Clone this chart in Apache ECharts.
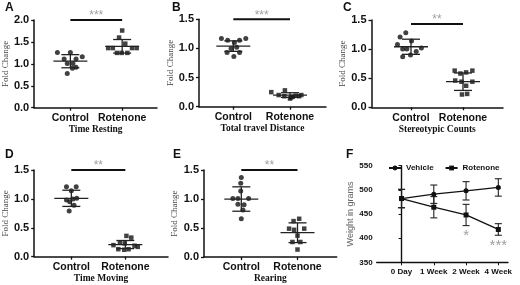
<!DOCTYPE html>
<html>
<head>
<meta charset="utf-8">
<script src="https://cdn.jsdelivr.net/npm/echarts@6/dist/echarts.min.js"></script>
<style>
  html, body { margin: 0; padding: 0; background: #fff; }
  #chart { width: 520px; height: 285px; }
</style>
</head>
<body>
<div id="chart"></div>
<script>
const categories = ['Control', 'Rotenone']
const behaviourTitles = ['Time Resting', 'Total travel Distance', 'Stereotypic Counts', 'Time Moving', 'Rearing']
const panelLetters = ['A', 'B', 'C', 'D', 'E', 'F']

// [jitter offset from category, fold change]
const restingControl = [[-0.25, 1.26], [0, 1.26], [0.23, 1.16], [-0.12, 1.11], [0.11, 1.11], [-0.06, 1.01], [0.05, 1.01], [0.11, 0.92], [0.04, 0.9], [-0.06, 0.78]]
const restingRotenone = [[0, 1.76], [-0.06, 1.6], [0.06, 1.46], [-0.27, 1.36], [-0.18, 1.36], [0.19, 1.36], [0.28, 1.36], [-0.1, 1.25], [-0.01, 1.25], [0.1, 1.25]]
const travelControl = [[-0.21, 1.17], [-0.1, 1.14], [0.11, 1.14], [0.22, 1.17], [0.02, 1.1], [-0.04, 1.0], [0.06, 1.02], [-0.11, 0.93], [0.11, 0.93], [0.01, 0.86]]
const travelRotenone = [[-0.33, 0.25], [-0.09, 0.28], [-0.2, 0.2], [-0.1, 0.18], [0.05, 0.17], [0.1, 0.19], [0.2, 0.2], [0.02, 0.16], [0.0, 0.14], [0.16, 0.18]]
const stereoControl = [[-0.1, 1.28], [-0.21, 1.21], [0.01, 1.14], [-0.26, 1.08], [-0.16, 1.0], [-0.08, 1.0], [0.1, 0.96], [0.2, 1.02], [-0.16, 0.87], [-0.01, 0.9]]
const stereoRotenone = [[-0.16, 0.63], [-0.05, 0.58], [0.06, 0.6], [0.18, 0.63], [-0.15, 0.46], [-0.03, 0.44], [0.18, 0.44], [0.06, 0.37], [-0.02, 0.22], [0.08, 0.23]]
const movingControl = [[-0.09, 1.21], [0.09, 1.21], [0, 1.14], [-0.09, 0.98], [0.1, 1.01], [-0.03, 0.95], [0.05, 0.89], [-0.04, 0.79], [0.03, 1.0]]
const movingRotenone = [[0.02, 0.36], [0.11, 0.33], [-0.1, 0.25], [-0.01, 0.23], [-0.22, 0.2], [0.17, 0.19], [-0.13, 0.13], [-0.02, 0.12], [0.06, 0.13], [0.23, 0.17]]
const rearingControl = [[0, 1.37], [-0.01, 1.27], [-0.01, 1.14], [-0.15, 1.01], [-0.06, 1.01], [0.13, 1.01], [-0.06, 0.91], [0.05, 0.9], [0.03, 0.81], [0, 0.66]]
const rearingRotenone = [[0.03, 0.66], [-0.07, 0.62], [-0.15, 0.49], [-0.06, 0.47], [0.12, 0.49], [0, 0.37], [-0.09, 0.26], [0.05, 0.26], [0, 0.13]]

// mean and SD per group [control, rotenone]
const groupMeans = [[1.06, 1.4], [1.04, 0.2], [1.04, 0.44], [1.01, 0.21], [1.0, 0.42]]
const groupSds = [[0.15, 0.155], [0.09, 0.04], [0.13, 0.15], [0.14, 0.07], [0.21, 0.17]]
const sigStars = ['***', '***', '**', '**', '**']
const sigLevel = [2.0, 1.5, 1.43, 1.5, 1.5]
const yMaxes = [2.0, 1.5, 1.5, 1.5, 1.5]

// panel F
const weeks = ['0 Day', '1 Week', '2 Week', '4 Week']
const vehicleMean = [482, 491, 498, 505]
const vehicleSd = [19, 19, 19, 18]
const rotenoneMean = [482, 464, 448, 418]
const rotenoneSd = [19, 22, 22, 12]
const weightStars = ['*', '***']
const weightStarPos = [[2, 413], [3, 391]]

const groups = [
  [restingControl, restingRotenone],
  [travelControl, travelRotenone],
  [stereoControl, stereoRotenone],
  [movingControl, movingRotenone],
  [rearingControl, rearingRotenone]
]

// pixel layout of the five dot-plot panels
const layout = [
  { left: 29, top: 20, right: 157, bottom: 107.7, ctrl: 66.7, rot: 120.7, nameGap: 21 },
  { left: 199, top: 19.3, right: 326, bottom: 106.7, ctrl: 233.3, rot: 290, nameGap: 21 },
  { left: 371.5, top: 20, right: 503, bottom: 107.3, ctrl: 411, rot: 463, nameGap: 19 },
  { left: 30, top: 170, right: 168, bottom: 256.7, ctrl: 68.3, rot: 124, nameGap: 22 },
  { left: 204, top: 170, right: 336.7, bottom: 257.3, ctrl: 241.3, rot: 297.5, nameGap: 25 }
]

const INK = '#111'
const STAR = '#a0a0a0'
const sans = 'Liberation Sans, Arial, sans-serif'
const serif = 'Liberation Serif, Times New Roman, serif'

const grids = [], xAxes = [], yAxes = [], series = []

layout.forEach((L, i) => {
  const unit = L.rot - L.ctrl
  grids.push({ left: L.left, top: L.top, width: L.right - L.left, height: L.bottom - L.top })
  xAxes.push({
    gridIndex: i, type: 'value',
    min: 1 - (L.ctrl - L.left) / unit, max: 2 + (L.right - L.rot) / unit,
    name: behaviourTitles[i], nameLocation: 'middle', nameGap: 15,
    nameTextStyle: { fontFamily: serif, fontWeight: 'bold', fontSize: 9.5, color: INK },
    splitLine: { show: false },
    axisLine: { lineStyle: { color: INK, width: 1.5 } },
    axisTick: { customValues: [1, 2], length: 3, lineStyle: { color: INK, width: 1.3 } },
    axisLabel: {
      customValues: [1, 2], margin: 5,
      formatter: v => categories[Math.round(v) - 1],
      fontFamily: sans, fontWeight: 'bold', fontSize: 10.5, color: INK
    }
  })
  yAxes.push({
    gridIndex: i, type: 'value', min: 0, max: yMaxes[i], interval: 0.5,
    name: 'Fold Change', nameLocation: 'middle', nameGap: L.nameGap,
    nameTextStyle: { fontFamily: serif, fontSize: 9, color: '#444' },
    splitLine: { show: false },
    axisLine: { show: true, lineStyle: { color: INK, width: 1.5 } },
    axisTick: { show: true, length: 3, lineStyle: { color: INK, width: 1.3 } },
    axisLabel: { formatter: v => v.toFixed(1), margin: 5, fontFamily: sans, fontWeight: 'bold', fontSize: 11, color: INK }
  })

  groups[i].forEach((pts, g) => {
    series.push({
      name: categories[g] + ' ' + panelLetters[i], type: 'scatter',
      xAxisIndex: i, yAxisIndex: i,
      symbol: g === 0 ? 'circle' : 'rect', symbolSize: g === 0 ? 5 : 4.5,
      itemStyle: { color: INK },
      data: pts.map(p => [g + 1 + p[0], p[1]])
    })
  })

  series.push({
    type: 'custom', xAxisIndex: i, yAxisIndex: i, z: 3,
    data: groupMeans[i].map((m, g) => [g + 1, m, groupSds[i][g]]),
    renderItem: (params, api) => {
      const x = api.value(0), m = api.value(1), s = api.value(2)
      const c = api.coord([x, m]), hi = api.coord([x, m + s]), lo = api.coord([x, m - s])
      const st = { stroke: '#222', lineWidth: 1.3 }
      return {
        type: 'group', children: [
          { type: 'line', shape: { x1: c[0] - 17, y1: c[1], x2: c[0] + 17, y2: c[1] }, style: st },
          { type: 'line', shape: { x1: hi[0] - 9, y1: hi[1], x2: hi[0] + 9, y2: hi[1] }, style: st },
          { type: 'line', shape: { x1: lo[0] - 9, y1: lo[1], x2: lo[0] + 9, y2: lo[1] }, style: st },
          { type: 'line', shape: { x1: c[0], y1: hi[1], x2: c[0], y2: lo[1] }, style: st }
        ]
      }
    }
  })

  series.push({
    type: 'custom', xAxisIndex: i, yAxisIndex: i, clip: false,
    data: [[1, 2, sigLevel[i]]],
    renderItem: (params, api) => {
      const a = api.coord([api.value(0), api.value(2)]), b = api.coord([api.value(1), api.value(2)])
      return {
        type: 'group', children: [
          { type: 'line', shape: { x1: a[0], y1: a[1], x2: b[0], y2: b[1] }, style: { stroke: INK, lineWidth: 2 } },
          { type: 'text', x: (a[0] + b[0]) / 2, y: a[1] - 10,
            style: { text: sigStars[i], fill: STAR, font: '12px ' + sans, align: 'center', verticalAlign: 'top' } }
        ]
      }
    }
  })
})

// panel F
const fi = 5
grids.push({ left: 376.7, top: 165.7, width: 131.3, height: 96.6 })
xAxes.push({
  gridIndex: fi, type: 'value', min: -0.77, max: 3.3,
  splitLine: { show: false },
  axisLine: { lineStyle: { color: INK, width: 1.4 } },
  axisTick: { customValues: [0, 1, 2, 3], length: 3, lineStyle: { color: INK } },
  axisLabel: {
    customValues: [0, 1, 2, 3], margin: 5,
    formatter: v => weeks[Math.round(v)],
    fontFamily: sans, fontWeight: 'bold', fontSize: 8, color: INK
  }
})
yAxes.push({
  gridIndex: fi, type: 'value', min: 350, max: 550, interval: 50,
  name: 'Weight in grams', nameLocation: 'middle', nameGap: 20,
  nameTextStyle: { fontFamily: sans, fontSize: 9, color: '#666' },
  splitLine: { show: false },
  axisLine: { show: true, lineStyle: { color: INK, width: 1.4 } },
  axisTick: { show: true, length: 3, lineStyle: { color: INK } },
  axisLabel: { margin: 4, fontFamily: sans, fontWeight: 'bold', fontSize: 8, color: INK }
})

const weightSets = [
  { name: 'Vehicle', mean: vehicleMean, sd: vehicleSd, symbol: 'circle' },
  { name: 'Rotenone', mean: rotenoneMean, sd: rotenoneSd, symbol: 'rect' }
]
weightSets.forEach(w => {
  series.push({
    name: w.name, type: 'line', xAxisIndex: fi, yAxisIndex: fi,
    symbol: w.symbol, symbolSize: 5, showAllSymbol: true,
    itemStyle: { color: INK }, lineStyle: { color: INK, width: 1.3 },
    data: w.mean.map((v, k) => [k, v])
  })
  series.push({
    type: 'custom', xAxisIndex: fi, yAxisIndex: fi,
    data: w.mean.map((v, k) => [k, v, w.sd[k]]),
    renderItem: (params, api) => {
      const x = api.value(0), m = api.value(1), s = api.value(2)
      const hi = api.coord([x, m + s]), lo = api.coord([x, m - s])
      const st = { stroke: '#222', lineWidth: 1.1 }
      return {
        type: 'group', children: [
          { type: 'line', shape: { x1: hi[0] - 3.5, y1: hi[1], x2: hi[0] + 3.5, y2: hi[1] }, style: st },
          { type: 'line', shape: { x1: lo[0] - 3.5, y1: lo[1], x2: lo[0] + 3.5, y2: lo[1] }, style: st },
          { type: 'line', shape: { x1: hi[0], y1: hi[1], x2: lo[0], y2: lo[1] }, style: st }
        ]
      }
    }
  })
})
series.push({
  type: 'custom', xAxisIndex: fi, yAxisIndex: fi, clip: false,
  data: weightStarPos,
  renderItem: (params, api) => {
    const p = api.coord([api.value(0), api.value(1)])
    return { type: 'text', x: p[0], y: p[1] - 4,
      style: { text: weightStars[params.dataIndex], fill: STAR, font: '15px ' + sans, align: 'center', verticalAlign: 'top' } }
  }
})

const letterPos = [[5, 2], [172, 2], [343, 2], [5, 149], [173, 149], [346, 149]]
const chart = echarts.init(document.getElementById('chart'))
chart.setOption({
  animation: false,
  backgroundColor: '#fff',
  title: panelLetters.map((t, k) => ({
    text: t, left: letterPos[k][0], top: letterPos[k][1], padding: 0,
    textStyle: { fontFamily: sans, fontWeight: 'bold', fontSize: 12, color: INK }
  })),
  legend: {
    data: ['Vehicle', 'Rotenone'], left: 388, top: 164,
    itemWidth: 12, itemHeight: 6, itemGap: 11, padding: 0,
    textStyle: { fontFamily: sans, fontWeight: 'bold', fontSize: 8, color: INK }
  },
  grid: grids,
  xAxis: xAxes,
  yAxis: yAxes,
  series
})
</script>
</body>
</html>
